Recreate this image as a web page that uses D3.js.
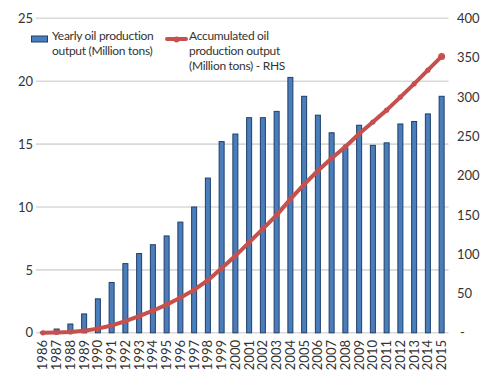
<!DOCTYPE html>
<html><head><meta charset="utf-8">
<script src="https://cdn.jsdelivr.net/npm/d3@7"></script>
<style>body{margin:0;background:#fff}svg{display:block}text{font-family:Lato,"Open Sans",sans-serif;fill:#333}</style>
</head><body><svg id="c" width="492" height="372"></svg>
<script>
const years = ["1986","1987","1988","1989","1990","1991","1992","1993","1994","1995","1996","1997","1998","1999","2000","2001","2002","2003","2004","2005","2006","2007","2008","2009","2010","2011","2012","2013","2014","2015"];
const yearly = [0.05,0.3,0.7,1.5,2.7,4.0,5.5,6.3,7.0,7.7,8.8,10.0,12.3,15.2,15.8,17.1,17.1,17.6,20.3,18.8,17.3,15.9,14.7,16.5,14.9,15.1,16.6,16.8,17.4,18.8];
const accumulated = [0,0.4,1.1,2.6,5.3,9.3,14.8,21.1,28.1,35.8,44.6,54.6,66.9,82.1,97.9,115.0,132.1,149.7,170.0,188.8,206.1,222.0,236.7,253.2,268.1,283.2,299.8,316.6,334.0,351.5];
const leftTicks = [0,5,10,15,20,25];
const rightTicks = [0,50,100,150,200,250,300,350,400];
const legendBar = ["Yearly oil production","output (Million tons)"];
const legendLine = ["Accumulated oil","production output","(Million tons) - RHS"];

const svg = d3.select("#c");
const x = d3.scaleBand().domain(years).range([36,448.5]).padding(0);
const yL = d3.scaleLinear().domain([0,25]).range([332.8,18.3]);
const yR = d3.scaleLinear().domain([0,400]).range([332.8,18.3]);

// gridlines
svg.append("g").selectAll("line").data(leftTicks).join("line")
  .attr("x1",36).attr("x2",448.5).attr("y1",d=>yL(d)).attr("y2",d=>yL(d))
  .attr("stroke","#d9d9d9").attr("stroke-width",1.6);

// left axis
const gl = svg.append("g").attr("transform","translate(33,0)")
  .call(d3.axisLeft(yL).tickValues(leftTicks).tickSize(0).tickPadding(0).tickFormat(d3.format("d")));
gl.select(".domain").remove();
gl.selectAll("text").attr("font-size",13);

// right axis
const gr = svg.append("g").attr("transform","translate(457,0)")
  .call(d3.axisRight(yR).tickValues(rightTicks).tickSize(0).tickPadding(0).tickFormat(d=>d===0?"-":String(d)));
gr.select(".domain").remove();
gr.selectAll("text").attr("font-size",13).attr("text-anchor","start");
gr.selectAll(".tick").filter(d=>d===0).select("text").attr("dx",3);

// bars
const bw = 5;
svg.append("g").selectAll("rect").data(years).join("rect")
  .attr("x",(d)=>x(d)+x.bandwidth()/2-bw/2)
  .attr("width",bw)
  .attr("y",(d,i)=>yL(yearly[i]))
  .attr("height",(d,i)=>yL(0)-yL(yearly[i]))
  .attr("fill","#4a7ebb").attr("stroke","#1f3e6a").attr("stroke-width",1);

// bottom axis labels
const gx = svg.append("g").attr("transform","translate(0,337)")
  .call(d3.axisBottom(x).tickSize(0).tickPadding(0));
gx.select(".domain").remove();
gx.selectAll("text").attr("font-size",13)
  .attr("transform","rotate(-90)").attr("text-anchor","end")
  .attr("x",-3).attr("y",0).attr("dy","0.35em");

// line
const line = d3.line().x((d,i)=>x(years[i])+x.bandwidth()/2).y(d=>yR(d));
svg.append("path").datum(accumulated).attr("d",line)
  .attr("fill","none").attr("stroke","#c5504d").attr("stroke-width",4).attr("stroke-linejoin","round").attr("stroke-linecap","round");
svg.append("g").selectAll("circle").data(accumulated).join("circle")
  .attr("cx",(d,i)=>x(years[i])+x.bandwidth()/2).attr("cy",d=>yR(d)).attr("r",(d,i)=>i===accumulated.length-1?3.5:2.6)
  .attr("fill","#c5504d");

// legend
const lg = svg.append("g");
lg.append("rect").attr("x",31.5).attr("y",36).attr("width",16).attr("height",6)
  .attr("fill","#4a7ebb").attr("stroke","#1f3e6a").attr("stroke-width",1);
lg.selectAll("text.lb").data(legendBar).join("text").attr("class","lb")
  .attr("x",52).attr("y",(d,i)=>39.5+i*15).attr("font-size",12).attr("letter-spacing",-0.3).text(d=>d);
lg.append("line").attr("x1",167).attr("x2",186).attr("y1",39).attr("y2",39)
  .attr("stroke","#c5504d").attr("stroke-width",4).attr("stroke-linecap","round");
lg.append("circle").attr("cx",176.5).attr("cy",39.5).attr("r",3).attr("fill","#c5504d");
lg.selectAll("text.ll").data(legendLine).join("text").attr("class","ll")
  .attr("x",189).attr("y",(d,i)=>39.5+i*15).attr("font-size",12).attr("letter-spacing",-0.3).text(d=>d);
</script></body></html>
